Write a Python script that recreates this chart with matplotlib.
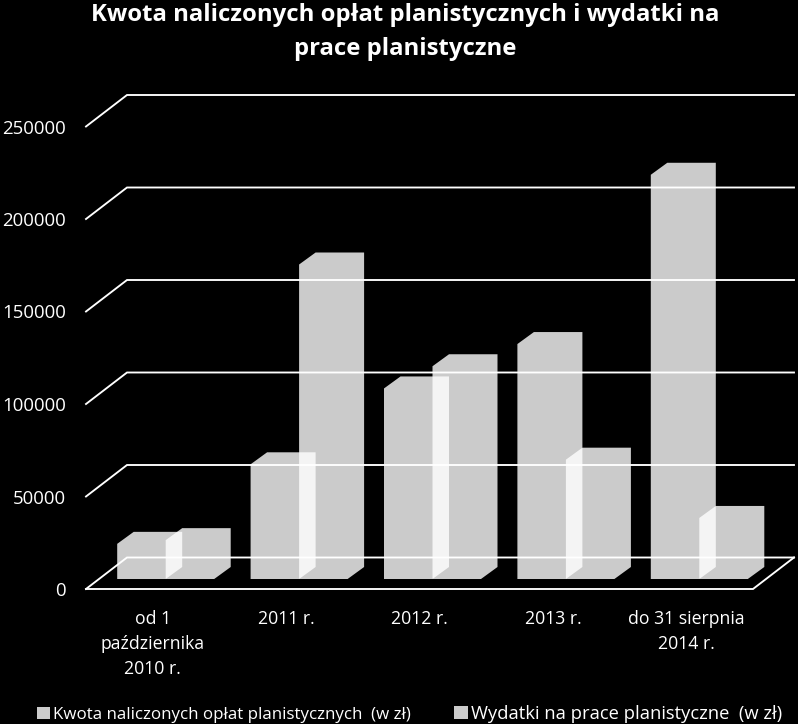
import matplotlib
matplotlib.use("Agg")
from matplotlib import pyplot as plt

categories = ["od 1\npaździernika\n2010 r.", "2011 r.", "2012 r.", "2013 r.", "do 31 sierpnia\n2014 r."]
kwota = [19000, 62000, 103000, 127000, 218500]
wydatki = [21000, 170000, 115000, 64500, 33000]
yticks = [0, 50000, 100000, 150000, 200000, 250000]
kwota_label = "Kwota naliczonych opłat planistycznych  (w zł)"
wydatki_label = "Wydatki na prace planistyczne  (w zł)"
title = "Kwota naliczonych opłat planistycznych i wydatki na\nprace planistyczne"

W, H = 798, 724
plt.rcParams["font.family"] = ["Open Sans", "DejaVu Sans"]

fig = plt.figure(figsize=(W / 100, H / 100), dpi=100, facecolor="black")
# axes = front edge of the fake 3d floor, in pixels
ax = fig.add_axes([86 / W, (H - 589) / H, 667 / W, 462.5 / H], facecolor="black")
ax.set_xlim(-0.5, 4.5)
ax.set_ylim(0, 250000)

# pixel sizes in data units
px = 5 / 667
py = 250000 / 462.5

# gridlines on back wall
wall_dx, wall_dy = 41 * px, 31.5 * py
for v in yticks:
    ax.plot([-0.5, -0.5 + wall_dx, 4.5 + wall_dx], [v, v + wall_dy, v + wall_dy],
            color="white", lw=1.35, clip_on=False, zorder=1, solid_joinstyle="miter")
ax.plot([-0.5, 4.5, 4.5 + wall_dx], [0, 0, wall_dy], color="white", lw=1.35,
        clip_on=False, zorder=1, solid_joinstyle="miter")


def draw_bar(left, value, label=None):
    # bar sits a bit inside the floor, drawn as one outline so the overlap gets lighter
    w = 48.5 * px
    d_x, d_y = 16.5 * px, 12 * py
    x0 = left + 13 * px
    y0 = 10 * py
    xs = [x0, x0, x0 + d_x, x0 + w + d_x, x0 + w + d_x, x0 + w]
    ys = [y0, y0 + value, y0 + value + d_y, y0 + value + d_y, y0 + d_y, y0]
    return ax.fill(xs, ys, color="white", alpha=0.8, lw=0, clip_on=False, zorder=2, label=label)[0]


handles = []
for i in range(len(categories)):
    h1 = draw_bar(i - 48.5 * px, kwota[i], kwota_label if i == 0 else None)
    h2 = draw_bar(i, wydatki[i], wydatki_label if i == 0 else None)
    if i == 0:
        handles = [h1, h2]

ax.set_xticks(range(len(categories)))
ax.set_xticklabels(categories, color="white", fontsize=12.7, linespacing=1.5)
ax.set_yticks(yticks)
ax.set_yticklabels([str(v) for v in yticks], color="white", fontsize=13.4)
ax.tick_params(axis="both", length=0)
ax.tick_params(axis="x", pad=15)
ax.tick_params(axis="y", pad=14.5)
for s in ax.spines.values():
    s.set_visible(False)

fig.text(405 / W, 1 - 3 / H, title, color="white", fontsize=17.2, fontweight="bold",
         ha="center", va="top", linespacing=1.55)

# two legends, the second label runs wider in the reference
leg_kw = dict(frameon=False, labelcolor="white", handlelength=0.75, handleheight=0.75,
              handletextpad=0.2, borderpad=0, borderaxespad=0, loc="lower left")
fig.legend(handles=[handles[0]], bbox_to_anchor=(37 / W, 1 / H), fontsize=12.2, **leg_kw)
fig.legend(handles=[handles[1]], bbox_to_anchor=(454 / W, 1 / H), fontsize=13.2, **leg_kw)

fig.savefig("out.png", dpi=100, facecolor="black")
